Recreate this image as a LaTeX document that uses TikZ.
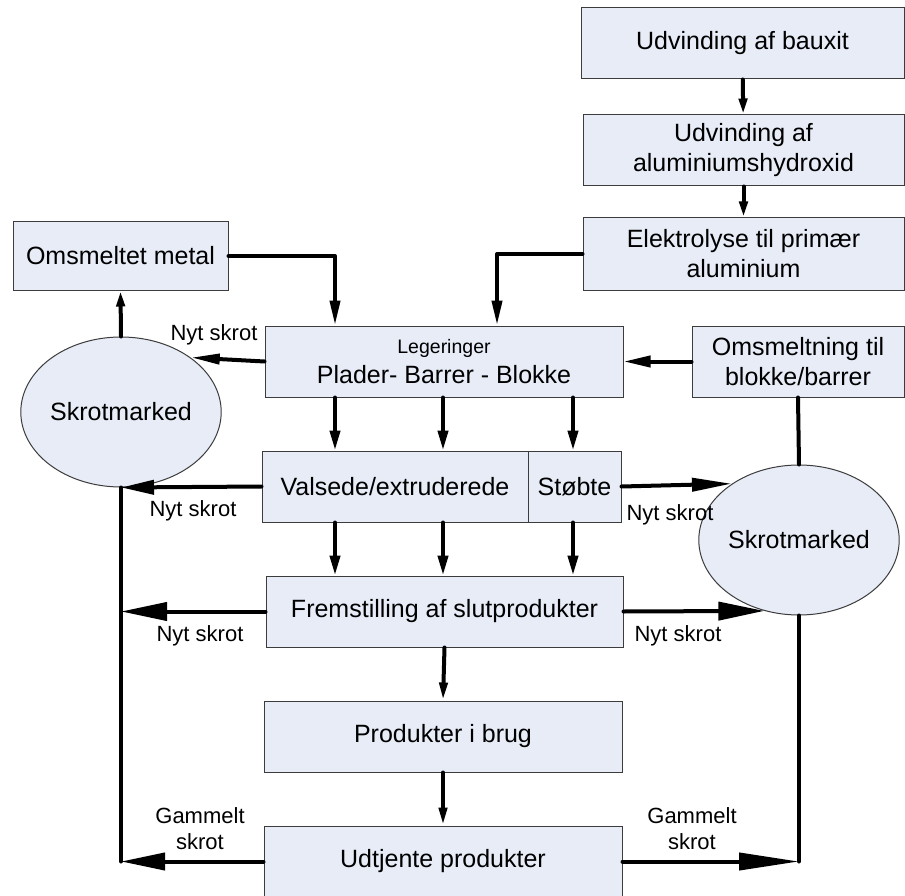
\documentclass[tikz,border=0pt]{standalone}
\usepackage{fontspec}
\setmainfont{Liberation Sans}
\usetikzlibrary{arrows.meta,shapes.geometric,calc}

\definecolor{boxfill}{RGB}{231,236,247}
\definecolor{boxline}{RGB}{60,60,60}

\newcommand{\mainsize}{\fontsize{25}{30}\selectfont}
\newcommand{\labsize}{\fontsize{22}{26}\selectfont}
\newcommand{\smallsize}{\fontsize{19.5}{23}\selectfont}

\begin{document}
\begin{tikzpicture}[x=1pt,y=-1pt,
  box/.style={draw=boxline, line width=1pt, fill=boxfill, rectangle,
    inner sep=0pt, align=center, font=\mainsize},
  market/.style={draw=boxline, line width=1pt, fill=boxfill, ellipse,
    minimum width=166pt, minimum height=150pt, inner sep=0pt, font=\mainsize},
  lab/.style={font=\labsize, align=center, inner sep=0pt},
  arr/.style 2 args={line width=4pt, line join=round, line cap=round,
    -{Triangle[length=#1,width=#2]}},
  plain/.style={line width=4pt, line join=round, line cap=round}
]
\clip (0,0) rectangle (905,896);

% process boxes
\node[box, minimum width=323pt, minimum height=71pt] (bauxit) at (742.5,43.5) {Udvinding af bauxit};
\node[box, minimum width=321pt, minimum height=71pt] (hydrox) at (743.5,150.5) {Udvinding af\\aluminiumshydroxid};
\node[box, minimum width=321pt, minimum height=72pt] (elektro) at (743.5,254) {Elektrolyse til primær\\aluminium};
\node[box, minimum width=215pt, minimum height=68pt] (omsmeltet) at (120.5,256) {Omsmeltet metal};
\node[box, minimum width=358pt, minimum height=71pt] (leger) at (444,361.5)
  {{\smallsize Legeringer}\\Plader- Barrer - Blokke};
\node[box, minimum width=212pt, minimum height=71pt] (omsmeltning) at (798,361.5) {Omsmeltning til\\blokke/barrer};
\node[box, minimum width=266pt, minimum height=71pt] (valsede) at (395,486.5) {Valsede/extruderede};
\node[box, minimum width=93pt, minimum height=71pt] (stobte) at (574.5,486.5) {Støbte};
\node[box, minimum width=357pt, minimum height=71pt] (fremst) at (444.5,611.5) {Fremstilling af slutprodukter};
\node[box, minimum width=358pt, minimum height=71pt] (brug) at (443,736.5) {Produkter i brug};
\node[box, minimum width=358pt, minimum height=71pt] (udtj) at (443,861.5) {Udtjente produkter};

% scrap markets
\node[market] (skrotL) at (121,412) {Skrotmarked};
\node[market] (skrotR) at (799,540) {Skrotmarked};

% points on box edges and corners of the return lines
\coordinate (legInA) at (335,0 |- leger.north);
\coordinate (legInB) at (497,0 |- leger.north);
\coordinate (lmid) at (skrotL.south |- fremst.west);
\coordinate (lbot) at (skrotL.south |- udtj.west);
\coordinate (rbot) at (skrotR.south |- udtj.east);

% primary aluminium chain
\draw[arr={16pt}{8pt}] (bauxit) -- (hydrox);
\draw[arr={16pt}{8pt}] (hydrox) -- (elektro);
\draw[arr={25pt}{10pt}] (elektro.west) -| (legInB);
\draw[arr={25pt}{10pt}] (omsmeltet.east) -| (legInA);
\draw[arr={16pt}{8pt}] (skrotL.north) -- (omsmeltet.south);

% alloys to semi-finished products to end products
\foreach \x in {335,443,573}{
  \draw[arr={20pt}{10pt}] (\x,0 |- leger.south) -- (\x,0 |- valsede.north);
  \draw[arr={20pt}{10pt}] (\x,0 |- valsede.south) -- (\x,0 |- fremst.north);
}
\draw[arr={18pt}{8pt}] (fremst.south) -- (brug.north);
\draw[arr={18pt}{8pt}] (brug.south) -- (udtj.north);

% new scrap, left side
\draw[arr={29pt}{10pt}] (leger.west) -- (skrotL.38);
\draw[arr={33pt}{14pt}] (valsede.west) -- (skrotL.south);
\draw[plain] (skrotL.south) -- (lbot);
\draw[arr={46pt}{18pt}] (fremst.west) -- (lmid);
\draw[arr={44pt}{17pt}] (udtj.west) -- (lbot);

% new scrap, right side
\draw[arr={27pt}{11pt}] (omsmeltning.west) -- (leger.east);
\draw[plain] (omsmeltning.south) -- (skrotR.north);
\draw[arr={40pt}{13pt}] (stobte.east) -- (skrotR.140);
\draw[arr={46pt}{18pt}] (fremst.east) -- (skrotR.244);
\draw[plain] (skrotR.south) -- (rbot);
\draw[arr={60pt}{17pt}] (udtj.east) -- (rbot);

% flow labels
\node[lab] (n1) at (214,335) {Nyt skrot};
\node[lab] (n2) at (193,511) {Nyt skrot};
\node[lab] (n3) at (670,515) {Nyt skrot};
\node[lab] (n4) at (200,636) {Nyt skrot};
\node[lab] (n5) at (678,636) {Nyt skrot};
\node[lab] (g1) at (200,829) {Gammelt\\skrot};
\node[lab] (g2) at (692,829) {Gammelt\\skrot};
\end{tikzpicture}
\end{document}
